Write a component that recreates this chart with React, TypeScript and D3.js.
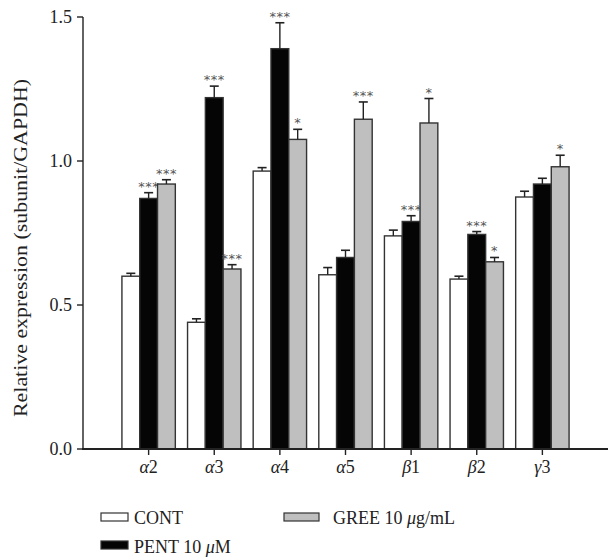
import React from "react";
import * as d3 from "d3";

const categories = ["α2", "α3", "α4", "α5", "β1", "β2", "γ3"];
const catNums = ["2", "3", "4", "5", "1", "2", "3"];
const catGreek = ["α", "α", "α", "α", "β", "β", "γ"];
const series = ["CONT", "PENT", "GREE"];
const contVals = [0.60, 0.44, 0.965, 0.605, 0.74, 0.59, 0.875];
const contErr = [0.01, 0.012, 0.012, 0.025, 0.02, 0.01, 0.02];
const pentVals = [0.87, 1.22, 1.39, 0.665, 0.79, 0.745, 0.92];
const pentErr = [0.02, 0.04, 0.09, 0.025, 0.02, 0.01, 0.02];
const greeVals = [0.92, 0.625, 1.075, 1.145, 1.132, 0.65, 0.98];
const greeErr = [0.015, 0.015, 0.035, 0.06, 0.085, 0.015, 0.04];
const contSig = ["", "", "", "", "", "", ""];
const pentSig = ["***", "***", "***", "", "***", "***", ""];
const greeSig = ["***", "***", "*", "***", "*", "*", "*"];
const yTicks = [0, 0.5, 1.0, 1.5];

const W = 610, H = 559;
const left = 83, right = 608, top = 17, bottom = 449;

export default function App() {
  const y = d3.scaleLinear().domain([0, 1.5]).range([bottom, top]);
  const x0 = d3.scaleBand<string>().domain(categories).range([left, right]).paddingInner(0).paddingOuter(0.5);
  const step = x0.step();
  const groupW = 53.4;
  const x1 = d3.scaleBand<string>().domain(series).range([0, groupW]).padding(0);
  const fills: Record<string, string> = { CONT: "#ffffff", PENT: "#050505", GREE: "#bfbfbf" };
  const vals: Record<string, number[]> = { CONT: contVals, PENT: pentVals, GREE: greeVals };
  const errs: Record<string, number[]> = { CONT: contErr, PENT: pentErr, GREE: greeErr };
  const sigs: Record<string, string[]> = { CONT: contSig, PENT: pentSig, GREE: greeSig };
  const font = "'Liberation Serif', 'DejaVu Serif', serif";
  const stroke = "#333";

  return (
    <svg width={W} height={H} style={{ position: "absolute", left: 0, top: 0 }} fontFamily={font}>
      <rect width={W} height={H} fill="#fff" />
      {categories.map((c, i) => {
        const cx = (x0(c) as number) + step / 2;
        const gx = cx - groupW / 2;
        return (
          <g key={c}>
            {series.map((s) => {
              const v = vals[s][i];
              const e = errs[s][i];
              const bx = gx + (x1(s) as number);
              const bw = x1.bandwidth();
              const mx = bx + bw / 2;
              const yt = y(v + e);
              return (
                <g key={s}>
                  <rect x={bx} y={y(v)} width={bw} height={bottom - y(v)} fill={fills[s]} stroke={stroke} strokeWidth={1.4} />
                  <line x1={mx} x2={mx} y1={y(v)} y2={yt} stroke="#222" strokeWidth={1.4} />
                  <line x1={mx - 4.5} x2={mx + 4.5} y1={yt} y2={yt} stroke="#222" strokeWidth={1.6} />
                  {sigs[s][i] && (
                    <text x={mx} y={yt - 2} textAnchor="middle" fontSize={13} fill="#555" fontFamily="'DejaVu Sans', sans-serif" letterSpacing={0.5}>
                      {sigs[s][i]}
                    </text>
                  )}
                </g>
              );
            })}
            <line x1={cx} x2={cx} y1={bottom} y2={bottom + 6} stroke="#222" strokeWidth={1.4} />
            <text x={cx} y={bottom + 24} textAnchor="middle" fontSize={18} fill="#222">
              <tspan fontStyle="italic">{catGreek[i]}</tspan>
              <tspan>{catNums[i]}</tspan>
            </text>
          </g>
        );
      })}
      <line x1={left} x2={left} y1={top} y2={bottom} stroke="#222" strokeWidth={1.4} />
      <line x1={left - 1} x2={right} y1={bottom} y2={bottom} stroke="#222" strokeWidth={1.8} />
      {yTicks.map((t) => (
        <g key={t}>
          <line x1={left - 6} x2={left} y1={y(t)} y2={y(t)} stroke="#222" strokeWidth={1.4} />
          <text x={left - 11} y={y(t) + 6} textAnchor="end" fontSize={18} fill="#222">
            {d3.format(".1f")(t)}
          </text>
        </g>
      ))}
      <text transform={`translate(27, ${(top + bottom) / 2 + 15}) rotate(-90)`} textAnchor="middle" fontSize={18} fill="#222" textLength={338} lengthAdjust="spacingAndGlyphs">
        Relative expression (subunit/GAPDH)
      </text>
      {/* legend */}
      <rect x={101} y={513} width={27} height={8} fill="#fff" stroke={stroke} strokeWidth={1.2} />
      <text x={134} y={524} fontSize={18} fill="#222">CONT</text>
      <rect x={101} y={541} width={27} height={8} fill="#050505" stroke={stroke} strokeWidth={1.2} />
      <text x={134} y={553} fontSize={18} fill="#222">
        PENT 10 <tspan fontStyle="italic">μ</tspan>M
      </text>
      <rect x={284} y={513} width={35} height={8} fill="#bfbfbf" stroke={stroke} strokeWidth={1.2} />
      <text x={333} y={524} fontSize={18} fill="#222">
        GREE 10 <tspan fontStyle="italic">μ</tspan>g/mL
      </text>
    </svg>
  );
}
